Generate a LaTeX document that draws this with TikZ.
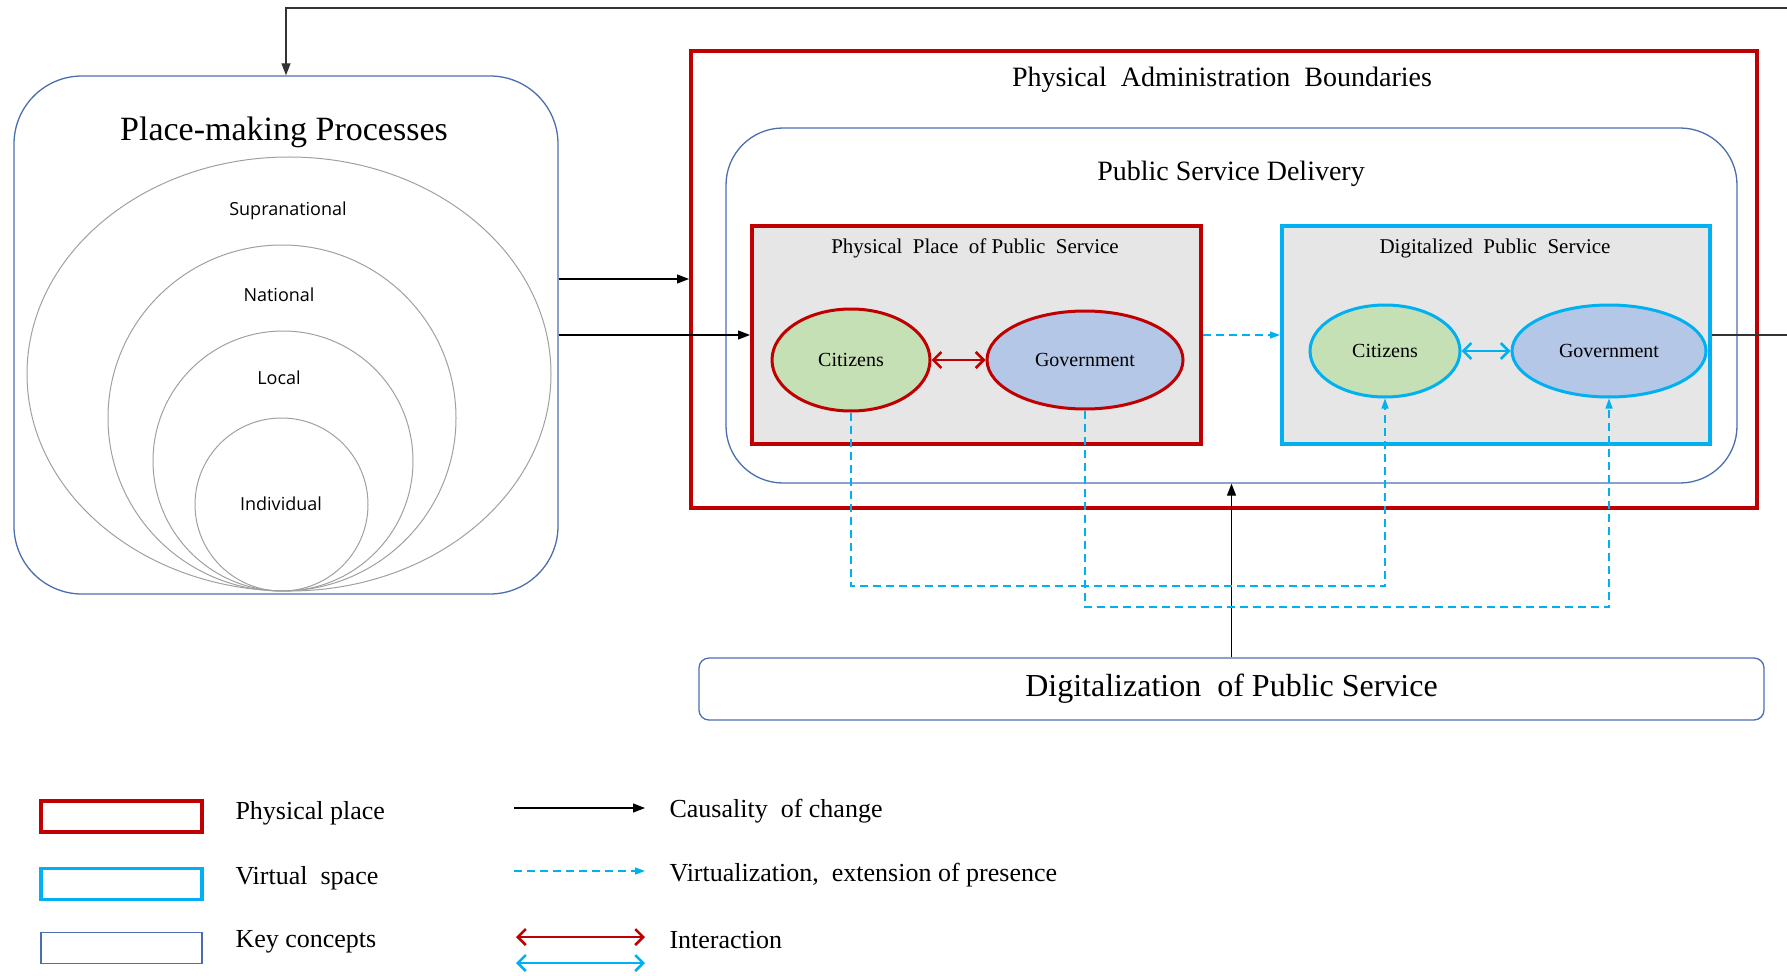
\documentclass[tikz,border=0pt]{standalone}
\usepackage{fontspec}
\setmainfont{Liberation Serif}
\newfontfamily\osans{Open Sans}
\usetikzlibrary{arrows.meta,shapes.geometric}
\definecolor{pred}{HTML}{C00000}
\definecolor{vcyan}{HTML}{00B0F0}
\definecolor{kblue}{HTML}{4A6FB0}
\definecolor{boxgray}{HTML}{E6E6E6}
\definecolor{cgreen}{HTML}{C5E0B4}
\definecolor{gblue}{HTML}{B4C7E7}
\definecolor{ringgray}{HTML}{A0A0A0}
\tikzset{
 fs/.style={font=\fontsize{#1}{#1}\selectfont},
 lab/.style={font=\osans\fontsize{18}{20}\selectfont},
 keybox/.style={draw=kblue, line width=1.3pt, rectangle, inner sep=0pt},
 physbox/.style={draw=pred, line width=4pt, rectangle, inner sep=0pt},
 virtbox/.style={draw=vcyan, line width=4pt, rectangle, inner sep=0pt},
 ell/.style={ellipse, inner sep=0pt, line width=3pt, font=\fontsize{20}{22}\selectfont},
 causal/.style={line width=1.3pt, -{Triangle[length=12pt,width=9pt]}},
 virt/.style={vcyan, line width=1.4pt, dash pattern=on 8pt off 5pt, -{Triangle[length=10pt,width=7pt]}},
 inter/.style={line width=2.5pt, {Straight Barb[length=8pt,width=16pt]}-{Straight Barb[length=8pt,width=16pt]}},
}
\begin{document}
\begin{tikzpicture}[x=1pt,y=-1pt]
\useasboundingbox (0,0) rectangle (1787,976);
% Place-making processes
\node[keybox, rounded corners=68pt, minimum width=544pt, minimum height=518pt] (pm) at (286,335) {};
\node[fs=34] (pmt) at (284,132) {Place-making Processes};
\draw[ringgray, line width=1pt] (289,374) ellipse [x radius=262pt, y radius=217pt];
\draw[ringgray, line width=1pt] (282,418) ellipse [x radius=174pt, y radius=173pt];
\draw[ringgray, line width=1pt] (283,461) ellipse [x radius=130pt, y radius=130pt];
\draw[ringgray, line width=1pt] (281.5,504.5) ellipse [x radius=86.5pt, y radius=86.5pt];
\node[lab] (l1) at (288,211) {Supranational};
\node[lab] (l2) at (279,295) {National};
\node[lab] (l3) at (279,378) {Local};
\node[lab] (l4) at (281,504) {Individual};
% Administration boundaries
\node[physbox, minimum width=1066pt, minimum height=457pt] (adm) at (1224,279.5) {};
\node[fs=28] (admt) at (1222,80) {Physical~ Administration~ Boundaries};
\node[keybox, rounded corners=57pt, minimum width=1011pt, minimum height=355pt] (psd) at (1231.5,305.5) {};
\node[fs=28] (psdt) at (1231,174) {Public Service Delivery};
\node[physbox, fill=boxgray, minimum width=449pt, minimum height=218pt] (phys) at (976.5,335) {};
\node[fs=21] (physt) at (975,248) {Physical~ Place~ of Public~ Service};
\node[virtbox, fill=boxgray, minimum width=428pt, minimum height=218pt] (dig) at (1496,335) {};
\node[fs=21] (digt) at (1495,248) {Digitalized~ Public~ Service};
\node[ell, draw=pred, fill=cgreen, minimum width=158pt, minimum height=102pt] (pc) at (851,360) {Citizens};
\node[ell, draw=pred, fill=gblue, minimum width=196pt, minimum height=98pt] (pg) at (1085,360) {Government};
\node[ell, draw=vcyan, fill=cgreen, minimum width=150pt, minimum height=92pt] (dc) at (1385,351) {Citizens};
\node[ell, draw=vcyan, fill=gblue, minimum width=194pt, minimum height=92pt] (dg) at (1609,351) {Government};
\draw[inter, pred] (pc) -- (pg);
\draw[inter, vcyan] (dc) -- (dg);
% Digitalization
\node[keybox, rounded corners=10pt, minimum width=1065pt, minimum height=62pt, fs=32] (dps) at (1231.5,689) {Digitalization~ of Public Service};
% connectors
\draw[causal] ([yshift=56pt]pm.east) -- ([yshift=56pt]pm.east -| adm.west);
\draw[causal] (pm.east) -- (phys.west);
\draw[virt] (phys.east) -- (dig.west);
\draw[causal] (dps.north) -- (psd.south);
\coordinate (far) at (1830,8);
\draw[causal, draw=black!80] (dig.east) -| (far) -| (pm.north);
\coordinate (v1) at (0,586);
\coordinate (v2) at (0,607);
\draw[virt] (pc.south) |- (v1 -| dc.south) -- (dc.south);
\draw[virt] (pg.south) |- (v2 -| dg.south) -- (dg.south);
% legend
\node[physbox, line width=3.5pt, minimum width=161pt, minimum height=31pt] (lp) at (121.5,816.5) {};
\node[virtbox, line width=3.5pt, minimum width=161pt, minimum height=31pt] (lv) at (121.5,884) {};
\node[keybox, minimum width=161pt, minimum height=31pt] (lk) at (121.5,948) {};
\node[fs=26, anchor=west] (tp) at (232,813) {Physical place};
\node[fs=26, anchor=west] (tv) at (232,878) {Virtual~ space};
\node[fs=26, anchor=west] (tk) at (232,942) {Key concepts};
\coordinate (a1s) at (514,808); \coordinate (a1e) at (645,808);
\coordinate (a2s) at (514,871); \coordinate (a2e) at (645,871);
\coordinate (a3s) at (516,937); \coordinate (a3e) at (645,937);
\coordinate (a4s) at (516,963); \coordinate (a4e) at (645,963);
\draw[causal] (a1s) -- (a1e);
\draw[virt] (a2s) -- (a2e);
\draw[inter, pred] (a3s) -- (a3e);
\draw[inter, vcyan] (a4s) -- (a4e);
\node[fs=26, anchor=west] (tc) at (666,811) {Causality~ of change};
\node[fs=26, anchor=west] (tvi) at (666,875) {Virtualization,~ extension of presence};
\node[fs=26, anchor=west] (ti) at (666,940) {Interaction};
\end{tikzpicture}
\end{document}
